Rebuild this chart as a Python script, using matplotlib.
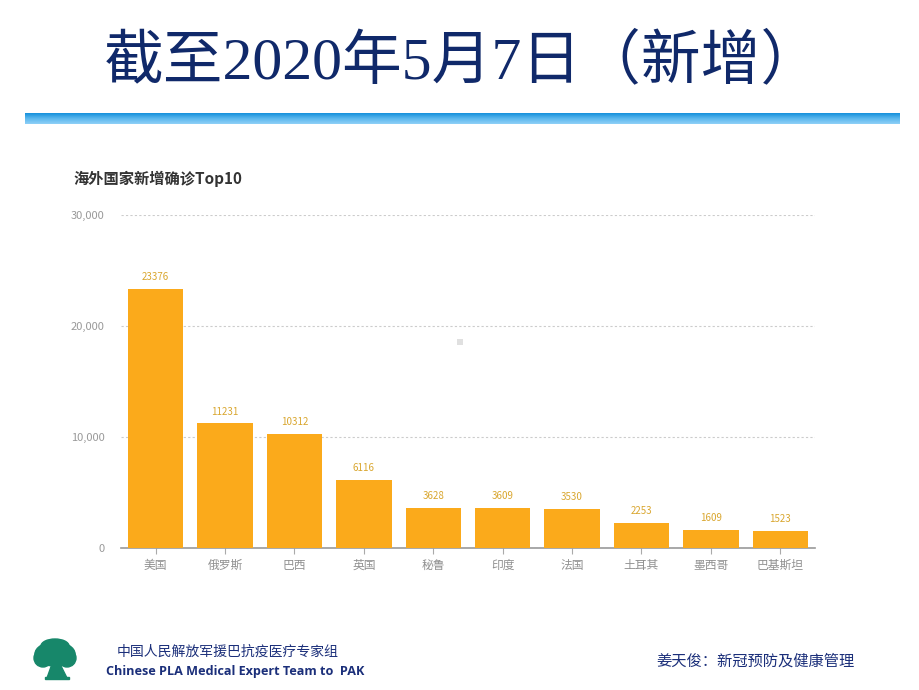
import matplotlib
matplotlib.use("Agg")
import matplotlib.pyplot as plt
import numpy as np
from matplotlib.patches import Ellipse, Rectangle, Polygon
from matplotlib.colors import LinearSegmentedColormap

categories = ["美国", "俄罗斯", "巴西", "英国", "秘鲁", "印度", "法国", "土耳其", "墨西哥", "巴基斯坦"]
values = [23376, 11231, 10312, 6116, 3628, 3609, 3530, 2253, 1609, 1523]
yticks = [0, 10000, 20000, 30000]
ytick_labels = ["0", "10,000", "20,000", "30,000"]

CJK = ["Noto Sans CJK SC", "DejaVu Sans"]
plt.rcParams["font.family"] = CJK

W, H = 920, 690
fig = plt.figure(figsize=(W / 100, H / 100), dpi=100)
fig.patch.set_facecolor("white")

# Title
fig.text(462 / W, 1 - 63 / H, "截至2020年5月7日（新增）",
         family=["Liberation Serif", "Noto Sans CJK SC"],
         fontsize=43, color="#10296a", ha="center", va="center")

# Blue gradient band
band = fig.add_axes([25 / W, 1 - 124 / H, (900 - 25) / W, 11 / H])
grad = np.linspace(0, 1, 50).reshape(-1, 1)
cmap = LinearSegmentedColormap.from_list("b", ["#1590dc", "#5bb8ee", "#8fd0f7"])
band.imshow(grad, aspect="auto", cmap=cmap, extent=[0, 1, 0, 1])
band.axis("off")

# Chart subtitle
fig.text(73 / W, 1 - 179 / H, "海外国家新增确诊Top10", fontsize=11, fontweight="bold",
         color="#333333", ha="left", va="center")

# Main chart
ax = fig.add_axes([121 / W, 1 - 548 / H, (815 - 121) / W, (548 - 215) / H])
x = np.arange(len(categories))
ax.bar(x, values, width=0.8, color="#FBAA1B", zorder=3)
for xi, v in zip(x, values):
    ax.text(xi, v + 600, str(v), ha="center", va="bottom", fontsize=7, color="#D9A62E")
ax.set_xlim(-0.5, len(categories) - 0.5)
ax.set_ylim(0, 30000)
ax.set_yticks(yticks)
ax.set_yticklabels(ytick_labels, fontsize=8, color="#999999")
ax.set_xticks(x)
ax.set_xticklabels(categories, fontsize=8.5, color="#909090")
ax.tick_params(axis="y", length=0, pad=12)
ax.tick_params(axis="x", length=4, color="#aaaaaa", pad=4, direction="out")
for s in ["top", "right", "left"]:
    ax.spines[s].set_visible(False)
ax.spines["bottom"].set_color("#999999")
ax.spines["bottom"].set_linewidth(1.2)
ax.grid(axis="y", linestyle=(0, (2, 2)), color="#cccccc", linewidth=0.8, zorder=0)
ax.set_axisbelow(True)

# small gray square artifact
fig.patches.append(Rectangle((457 / W, 1 - 345 / H), 6 / W, 6 / H, transform=fig.transFigure,
                             facecolor="#e0e0e0", edgecolor="none"))

# Logo (tree)
lg = fig.add_axes([33 / W, 1 - 682 / H, 45 / W, 44 / H])
lg.set_xlim(0, 45); lg.set_ylim(0, 44)
lg.axis("off")
g = "#17876a"
lg.add_patch(Ellipse((22, 28), 40, 24, color=g))
lg.add_patch(Ellipse((10, 24), 18, 18, color=g))
lg.add_patch(Ellipse((34, 24), 18, 18, color=g))
lg.add_patch(Ellipse((22, 36), 28, 14, color=g))
lg.add_patch(Polygon([[14, 4], [19, 18], [27, 18], [34, 4]], color=g))
lg.add_patch(Rectangle((12, 3), 24, 2, color=g))

# Footer
fig.text(117 / W, 1 - 652 / H, "中国人民解放军援巴抗疫医疗专家组", fontsize=10,
         color="#1b2f7a", ha="left", va="center")
fig.text(106 / W, 1 - 672 / H, "Chinese PLA Medical Expert Team to  PAK", fontsize=9.1,
         fontweight="bold", color="#1b2f7a", ha="left", va="center",
         family=["Open Sans", "DejaVu Sans"])
fig.text(656 / W, 1 - 661 / H, "姜天俊：新冠预防及健康管理", fontsize=11,
         color="#1b2f7a", ha="left", va="center")

fig.savefig("out.png", dpi=100, facecolor="white")
